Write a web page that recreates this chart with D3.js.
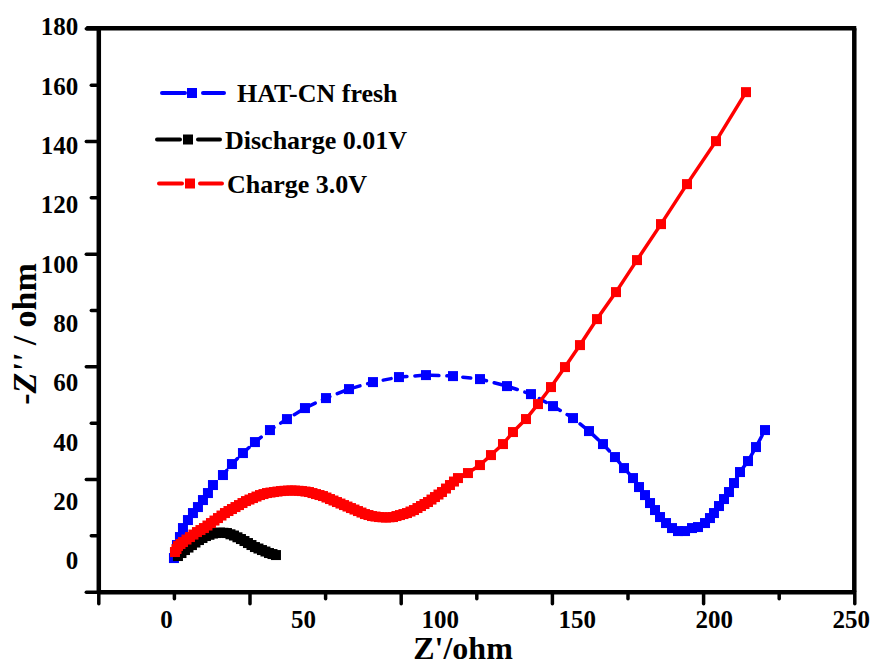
<!DOCTYPE html>
<html>
<head>
<meta charset="utf-8">
<script src="https://cdn.jsdelivr.net/npm/d3@7"></script>
<style>
  html, body { margin: 0; padding: 0; background: #ffffff; }
  svg { display: block; }
  text { font-family: "Liberation Serif", "Times New Roman", serif; font-weight: bold; fill: #000; }
</style>
</head>
<body>
<script>
// ---------------- DATA ----------------
const seriesNames = ["HAT-CN fresh", "Discharge 0.01V", "Charge 3.0V"];
const seriesColors = ["#0000ff", "#000000", "#ff0000"];

// HAT-CN fresh  [Z', -Z'']
const freshX = [2.92,3.29,4.02,5.11,6.21,8.03,9.86,11.68,13.51,15.33,17.16,20.81,24.10,28.11,32.49,37.97,44.18,50.75,58.42,66.82,75.58,85.07,94.93,104.79,114.65,124.51,133.26,141.30,148.60,154.44,159.55,163.93,167.22,170.51,172.70,174.89,176.72,178.54,180.37,182.56,184.75,186.94,189.50,192.05,194.24,196.80,198.61,200.07,201.90,203.73,205.55,207.38,209.57,212.49,215.41,218.70];
const freshY = [0.94,2.63,5.32,8.02,11.05,13.75,16.11,18.13,20.49,22.85,25.55,28.92,32.62,36.33,40.03,44.08,47.78,51.49,54.86,57.89,60.25,61.94,62.61,62.27,61.26,58.90,56.20,52.16,48.12,43.74,39.36,34.98,31.27,27.90,24.87,22.17,19.48,17.12,14.76,12.74,11.05,10.04,10.04,11.05,11.39,12.74,14.42,16.11,18.47,20.83,23.19,26.22,29.93,33.63,38.35,44.08];

// Discharge 0.01V
const dischargeX = [4.38,5.66,6.94,8.22,9.49,10.77,12.05,13.33,14.60,15.88,17.16,18.44,19.72,21.00,22.27,23.55,24.83,26.10,27.38,28.66,29.94,31.22,32.49,33.77,35.05,36.33,37.61,38.89,40.16];
const dischargeY = [1.62,2.63,3.64,4.48,5.32,6.17,7.01,7.69,8.36,8.78,9.20,9.37,9.54,9.46,9.37,8.95,8.53,7.94,7.35,6.68,6.00,5.33,4.65,4.15,3.64,3.14,2.63,2.29,1.95];

// Charge 3.0V
const chargeX = [3.29,3.84,4.38,5.30,6.21,7.49,8.76,10.04,11.32,12.60,13.87,15.15,16.43,17.71,18.99,20.27,21.54,22.82,24.10,25.38,26.66,27.94,29.21,30.49,31.77,33.05,34.33,35.61,36.88,38.16,39.43,40.71,41.99,43.27,44.54,45.82,47.10,48.38,49.66,50.94,52.21,53.49,54.77,56.05,57.32,58.60,59.88,61.16,62.43,63.71,64.99,66.27,67.54,68.82,70.10,71.38,72.65,73.93,75.21,76.49,77.77,79.05,80.32,81.60,82.88,84.16,85.43,86.71,87.99,89.27,90.54,91.82,93.10,94.38,95.66,96.94,98.21,99.49,100.77,102.23,103.69,105.15,106.61,110.26,114.64,118.66,123.04,126.69,131.44,135.82,140.57,145.68,151.15,157.36,164.30,171.97,180.73,190.22,200.81,211.76];
const chargeY = [2.97,3.98,4.99,5.67,6.34,7.18,8.02,8.86,9.70,10.38,11.05,11.90,12.74,13.58,14.42,15.27,16.11,16.79,17.46,18.13,18.80,19.48,20.15,20.66,21.16,21.67,22.17,22.51,22.85,23.02,23.19,23.36,23.52,23.61,23.69,23.72,23.69,23.61,23.52,23.36,23.19,22.85,22.51,22.18,21.84,21.34,20.83,20.33,19.82,19.31,18.80,18.30,17.79,17.29,16.78,16.28,15.77,15.44,15.10,14.93,14.76,14.68,14.59,14.68,14.76,15.10,15.43,15.77,16.11,16.62,17.12,17.80,18.47,19.15,19.82,20.66,21.50,22.35,23.19,24.37,25.55,26.73,27.90,29.59,32.28,35.65,39.36,43.41,47.79,52.84,58.57,65.31,72.72,81.48,90.58,101.37,113.50,126.98,141.47,157.98];

// axis labels and tick marks (data units)
const xTickLabels = [0, 50, 100, 150, 200, 250];
const yTickLabels = [0, 20, 40, 60, 80, 100, 120, 140, 160, 180];
const xTickMarks = [-24.7, 2.9, 30.5, 58.1, 85.7, 113.3, 140.9, 168.5, 196.1, 223.7, 251.3];
const yTickMarks = [-10.4, 8.59, 27.58, 46.57, 65.56, 84.55, 103.54, 122.53, 141.52, 160.51, 179.5];
const xDomain = [-24.7, 251.3];
const yDomain = [-10.4, 179.5];

// ---------------- CHART ----------------
const W = 877, H = 666;
const pLeft = 98.3, pRight = 854.3, pTop = 28.3, pBottom = 591.7;

const svg = d3.select("body").append("svg").attr("width", W).attr("height", H);

const x = d3.scaleLinear().domain(xDomain).range([pLeft, pRight]);
const y = d3.scaleLinear().domain(yDomain).range([pBottom, pTop]);

const series = [
  { name: seriesNames[0], color: seriesColors[0], pts: freshX.map((v, i) => [v, freshY[i]]), dash: "8,8" },
  { name: seriesNames[1], color: seriesColors[1], pts: dischargeX.map((v, i) => [v, dischargeY[i]]), dash: null },
  { name: seriesNames[2], color: seriesColors[2], pts: chargeX.map((v, i) => [v, chargeY[i]]), dash: null }
];

const line = d3.line().x(d => x(d[0])).y(d => y(d[1]));

const plot = svg.append("g");
series.forEach(s => {
  plot.append("path")
    .datum(s.pts)
    .attr("fill", "none")
    .attr("stroke", s.color)
    .attr("stroke-width", 3.5)
    .attr("stroke-linecap", "round")
    .attr("stroke-dasharray", s.dash)
    .attr("d", line);
  plot.selectAll(null)
    .data(s.pts)
    .enter().append("rect")
    .attr("x", d => x(d[0]) - 5)
    .attr("y", d => y(d[1]) - 5)
    .attr("width", 10)
    .attr("height", 10)
    .attr("fill", s.color);
});

// frame (top and right)
svg.append("line").attr("x1", pLeft - 12).attr("x2", pRight + 2).attr("y1", pTop).attr("y2", pTop)
  .attr("stroke", "#000").attr("stroke-width", 4.5);
svg.append("line").attr("x1", pRight).attr("x2", pRight).attr("y1", pTop).attr("y2", pBottom)
  .attr("stroke", "#000").attr("stroke-width", 4.5);

// axes
function styleAxis(g, width) {
  g.select(".domain").attr("stroke", "#000").attr("stroke-width", 4.5);
  g.selectAll(".tick line").attr("stroke", "#000").attr("stroke-width", width).attr("stroke-linecap", "round");
}
const xMajor = xTickMarks.filter((d, i) => i % 2 === 0);
const xMinor = xTickMarks.filter((d, i) => i % 2 === 1);
const yMajor = yTickMarks.filter((d, i) => i % 2 === 0);
const yMinor = yTickMarks.filter((d, i) => i % 2 === 1);

const gx1 = svg.append("g").attr("transform", `translate(0,${pBottom})`)
  .call(d3.axisBottom(x).tickValues(xMajor).tickFormat("").tickSize(12).tickSizeOuter(0));
styleAxis(gx1, 3.5);
const gx2 = svg.append("g").attr("transform", `translate(0,${pBottom})`)
  .call(d3.axisBottom(x).tickValues(xMinor).tickFormat("").tickSize(7).tickSizeOuter(0));
styleAxis(gx2, 3.5);
gx2.select(".domain").remove();

const gy1 = svg.append("g").attr("transform", `translate(${pLeft},0)`)
  .call(d3.axisLeft(y).tickValues(yMajor).tickFormat("").tickSize(12).tickSizeOuter(0));
styleAxis(gy1, 3.5);
const gy2 = svg.append("g").attr("transform", `translate(${pLeft},0)`)
  .call(d3.axisLeft(y).tickValues(yMinor).tickFormat("").tickSize(7).tickSizeOuter(0));
styleAxis(gy2, 3.5);
gy2.select(".domain").remove();

// tick labels
const gxl = svg.append("g").attr("transform", `translate(0,${pBottom})`)
  .call(d3.axisBottom(x).tickValues(xTickLabels).tickFormat(d3.format("d")).tickSize(0).tickPadding(19));
gxl.select(".domain").remove();
gxl.selectAll("text").attr("font-size", 25).attr("font-family", "Liberation Serif").attr("font-weight", "bold").attr("fill", "#000");

const gyl = svg.append("g").attr("transform", `translate(${pLeft - 20},0)`)
  .call(d3.axisLeft(y).tickValues(yTickLabels).tickFormat(d3.format("d")).tickSize(0).tickPadding(0));
gyl.select(".domain").remove();
gyl.selectAll("text").attr("font-size", 25).attr("font-family", "Liberation Serif").attr("font-weight", "bold").attr("fill", "#000");

// axis titles
svg.append("text").attr("x", 463).attr("y", 659).attr("text-anchor", "middle")
  .attr("font-size", 32).text("Z'/ohm");

const yt = svg.append("text").attr("transform", "translate(36,334) rotate(-90)")
  .attr("text-anchor", "middle").attr("font-size", 34);
yt.append("tspan").text("-");
yt.append("tspan").attr("font-style", "italic").text("Z''");
yt.append("tspan").text(" / ohm");

// legend
const legend = [
  { i: 0, y: 93, segs: [[162, 185], [203, 224]], mx: 192, tx: 237 },
  { i: 1, y: 139.5, segs: [[157, 180], [198, 220]], mx: 188, tx: 225 },
  { i: 2, y: 183.5, segs: [[159, 182], [200, 222]], mx: 190, tx: 227 }
];
legend.forEach(l => {
  const s = series[l.i];
  l.segs.forEach(sg => {
    svg.append("line").attr("x1", sg[0]).attr("x2", sg[1]).attr("y1", l.y).attr("y2", l.y)
      .attr("stroke", s.color).attr("stroke-width", 4).attr("stroke-linecap", "round");
  });
  svg.append("rect").attr("x", l.mx - 5).attr("y", l.y - 5).attr("width", 10).attr("height", 10).attr("fill", s.color);
  svg.append("text").attr("x", l.tx).attr("y", l.y + 9).attr("font-size", 26).text(s.name);
});
</script>
</body>
</html>
